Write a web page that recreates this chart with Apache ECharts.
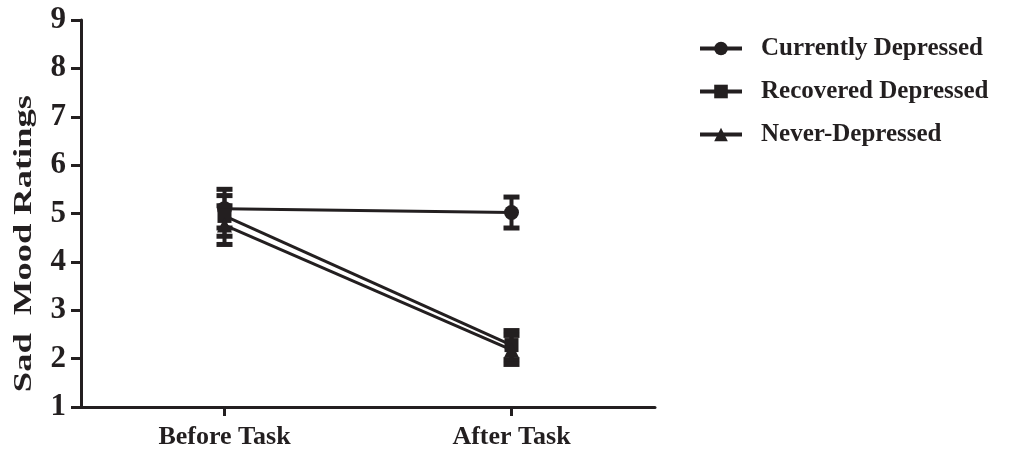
<!DOCTYPE html>
<html><head><meta charset="utf-8">
<script src="https://cdn.jsdelivr.net/npm/echarts@6/dist/echarts.min.js"></script>
<style>html,body{margin:0;padding:0;background:#fff}#c{width:1022px;height:451px}</style>
</head><body><div id="c"></div>
<script>
var categories = ['', 'Before Task', '', 'After Task', ''];
var yTicks = [1, 2, 3, 4, 5, 6, 7, 8, 9];
var currentlyMean = [null, 5.10, null, 5.02, null];
var currentlyErr  = [null, 0.40, null, 0.32, null];
var recoveredMean = [null, 4.95, null, 2.28, null];
var recoveredErr  = [null, 0.42, null, 0.30, null];
var neverMean     = [null, 4.76, null, 2.18, null];
var neverErr      = [null, 0.40, null, 0.30, null];
var seriesNames = ['Currently Depressed', 'Recovered Depressed', 'Never-Depressed'];
var yTitle = 'Sad  Mood Ratings';

var INK = '#231f20';
var FONT = '"Liberation Serif", "Times New Roman", serif';

function errData(mean, err) {
  var out = [];
  for (var i = 0; i < mean.length; i++) {
    if (mean[i] != null) out.push([i, mean[i] - err[i], mean[i] + err[i]]);
  }
  return out;
}
function errSeries(mean, err) {
  return {
    type: 'custom', silent: true, z: 3,
    data: errData(mean, err),
    renderItem: function (params, api) {
      var x = api.value(0);
      var lo = api.coord([x, api.value(1)]);
      var hi = api.coord([x, api.value(2)]);
      var w = 8;
      return { type: 'group', children: [
        { type: 'line', shape: { x1: lo[0], y1: lo[1], x2: hi[0], y2: hi[1] }, style: { stroke: INK, lineWidth: 4 } },
        { type: 'line', shape: { x1: lo[0] - w, y1: lo[1], x2: lo[0] + w, y2: lo[1] }, style: { stroke: INK, lineWidth: 5 } },
        { type: 'line', shape: { x1: hi[0] - w, y1: hi[1], x2: hi[0] + w, y2: hi[1] }, style: { stroke: INK, lineWidth: 5 } }
      ]};
    }
  };
}
function lineSeries(name, mean, symbol, size) {
  return {
    name: name, type: 'line', data: mean, connectNulls: true,
    symbol: symbol, symbolSize: size, showSymbol: true,
    lineStyle: { color: INK, width: 3 },
    itemStyle: { color: INK, borderColor: INK, borderWidth: 0 },
    z: 4, animation: false
  };
}

var chart = echarts.init(document.getElementById('c'));
chart.setOption({
  animation: false,
  backgroundColor: '#fff',
  grid: { left: 81, right: 367, top: 20, bottom: 44 },
  legend: {
    orient: 'vertical', left: 693, top: 31, itemGap: 18,
    itemWidth: 42, itemHeight: 17,
    data: seriesNames,
    lineStyle: { width: 4, color: INK },
    textStyle: { fontFamily: FONT, fontWeight: 'bold', fontSize: 25, color: INK, padding: [0, 0, 0, 14] }
  },
  xAxis: {
    type: 'category', data: categories, boundaryGap: false,
    axisLine: { lineStyle: { color: INK, width: 3 } },
    axisTick: { alignWithLabel: true, length: 9, lineStyle: { color: INK, width: 3 },
      interval: function (i, v) { return v !== ''; } },
    axisLabel: { interval: 0, margin: 17, fontFamily: FONT, fontWeight: 'bold', fontSize: 26, color: INK }
  },
  yAxis: {
    type: 'value', min: yTicks[0], max: yTicks[yTicks.length - 1], interval: 1,
    splitLine: { show: false },
    axisLine: { show: true, lineStyle: { color: INK, width: 3 } },
    axisTick: { show: true, length: 10, lineStyle: { color: INK, width: 3 } },
    axisLabel: { margin: 15, fontFamily: FONT, fontWeight: 'bold', fontSize: 31, color: INK }
  },
  graphic: [{
    type: 'text', left: 12, top: 95, rotation: Math.PI / 2, scaleX: 1.46,
    style: { text: yTitle, fontFamily: FONT, fontWeight: 'bold', fontSize: 25, fill: INK }
  }],
  series: [
    errSeries(currentlyMean, currentlyErr),
    errSeries(recoveredMean, recoveredErr),
    errSeries(neverMean, neverErr),
    lineSeries(seriesNames[0], currentlyMean, 'circle', 15),
    lineSeries(seriesNames[1], recoveredMean, 'rect', 14),
    lineSeries(seriesNames[2], neverMean, 'triangle', 15)
  ]
});
</script></body></html>
